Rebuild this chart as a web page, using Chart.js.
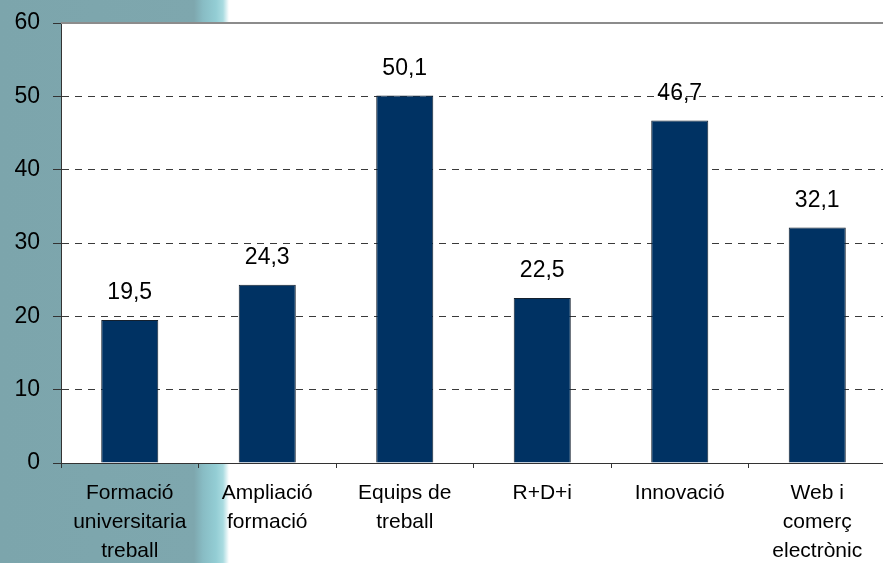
<!DOCTYPE html>
<html>
<head>
<meta charset="utf-8">
<script src="https://cdn.jsdelivr.net/npm/chart.js@4"></script>
<style>
  html, body {
    margin: 0;
    padding: 0;
    width: 883px;
    height: 563px;
    overflow: hidden;
    background: linear-gradient(to right, #7ca5ac 0px, #7ea7ae 194px, #88bcc4 203px, #93cdd4 216px, #a9dbe0 223px, #ffffff 229px);
  }
  #wrap {
    position: relative;
    width: 886px;
    height: 563px;
  }
</style>
</head>
<body>
<div id="wrap"><canvas id="barChart"></canvas></div>
<script>
const categories = [
  ["Formació", "universitaria", "treball"],
  ["Ampliació", "formació"],
  ["Equips de", "treball"],
  ["R+D+i"],
  ["Innovació"],
  ["Web i", "comerç", "electrònic"]
];
const values = [19.5, 24.3, 50.1, 22.5, 46.7, 32.1];
const yTicks = [0, 10, 20, 30, 40, 50, 60];

const FONT = "'Liberation Sans', Arial, sans-serif";

// fond blanc de la zone de tracé + ligne grise en haut
const plotArea = {
  id: 'plotArea',
  beforeDraw(chart) {
    const { ctx, chartArea: a } = chart;
    ctx.save();
    ctx.fillStyle = '#ffffff';
    ctx.fillRect(a.left, a.top, a.right - a.left, a.bottom - a.top);
    ctx.restore();
  },
  afterDraw(chart) {
    const { ctx, chartArea: a } = chart;
    ctx.save();
    ctx.strokeStyle = '#8c8c8c';
    ctx.lineWidth = 2;
    ctx.beginPath();
    ctx.moveTo(a.left, a.top);
    ctx.lineTo(a.right, a.top);
    ctx.stroke();
    ctx.restore();
  }
};

// valeurs au-dessus des barres (virgule décimale)
const valueLabels = {
  id: 'valueLabels',
  afterDatasetsDraw(chart) {
    const { ctx } = chart;
    const meta = chart.getDatasetMeta(0);
    ctx.save();
    ctx.font = '23px ' + FONT;
    ctx.fillStyle = '#000';
    ctx.textAlign = 'center';
    ctx.textBaseline = 'alphabetic';
    meta.data.forEach((bar, i) => {
      const txt = values[i].toFixed(1).replace('.', ',');
      ctx.fillText(txt, bar.x, bar.y - 21);
    });
    ctx.restore();
  }
};

const ctx = document.getElementById('barChart').getContext('2d');

new Chart(ctx, {
  type: 'bar',
  data: {
    labels: categories,
    datasets: [{
      data: values,
      backgroundColor: '#003263',
      borderColor: '#14202e',
      borderWidth: 1,
      categoryPercentage: 1,
      barPercentage: 0.415
    }]
  },
  options: {
    responsive: true,
    maintainAspectRatio: false,
    animation: false,
    layout: { padding: { top: 23, left: 0, right: 0, bottom: 0 } },
    plugins: {
      legend: { display: false },
      tooltip: { enabled: false }
    },
    scales: {
      x: {
        afterFit(scale) { scale.height = 100; },
        grid: {
          offset: true,
          drawOnChartArea: false,
          tickLength: 5,
          tickColor: '#333'
        },
        border: { display: true, color: '#333', width: 1 },
        ticks: {
          color: '#000',
          padding: 11,
          maxRotation: 0,
          autoSkip: false,
          font: { family: FONT, size: 21, lineHeight: 1.38 }
        }
      },
      y: {
        min: 0,
        max: 60,
        afterFit(scale) {
          scale.width = 61;
          scale.paddingTop = 0;
          scale.paddingBottom = 0;
        },
        afterBuildTicks(scale) {
          scale.ticks = yTicks.map(v => ({ value: v }));
        },
        grid: {
          color: (c) => (c.tick && (c.tick.value === 0 || c.tick.value === 60)) ? 'rgba(0,0,0,0)' : '#3a3a3a',
          tickColor: '#333',
          tickLength: 8,
          lineWidth: 1
        },
        border: { display: true, color: '#333', width: 1, dash: [7, 6] },
        ticks: {
          color: '#000',
          padding: 13,
          font: { family: FONT, size: 23 }
        }
      }
    }
  },
  plugins: [plotArea, valueLabels]
});
</script>
</body>
</html>
